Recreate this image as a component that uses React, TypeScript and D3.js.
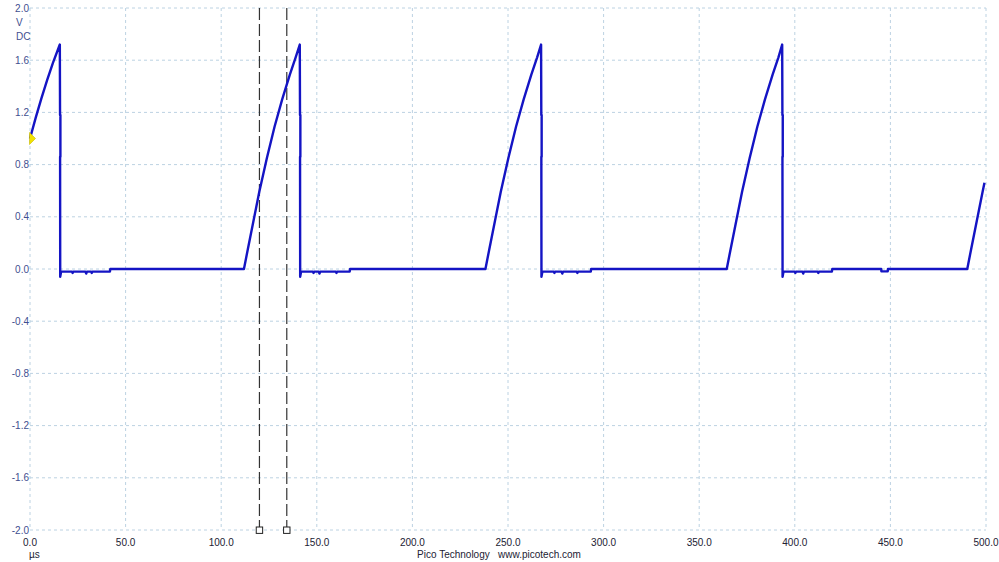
import React from "react";
import * as d3 from "d3";

// ---- data ----
const xTicks = [0, 50, 100, 150, 200, 250, 300, 350, 400, 450, 500];
const yTicks = [2.0, 1.6, 1.2, 0.8, 0.4, 0.0, -0.4, -0.8, -1.2, -1.6, -2.0];
const yUnitLabels = ["V", "DC"];
const xUnitLabel = "µs";
const footerText = "Pico Technology   www.picotech.com";
const cursorTimes = [120.0, 134.3];
const triggerLevel = 1.0;

// trace: time (µs)
const traceT = [
  0, 3, 6, 9, 12, 15.6,
  15.72, 15.74, 15.9, 15.9, 15.74, 15.8, 16.3, 22, 22.3, 22.6, 29, 29.4, 29.8, 32, 32.3, 32.6, 41.8, 42.0,
  111.9, 113.9, 116.9, 119.9, 123.9, 127.9, 131.9, 135.9, 138.9, 141.1,
  141.22, 141.24, 141.4, 141.4, 141.24, 141.3, 141.8, 148, 148.3, 148.6, 151, 151.4, 151.8, 160, 160.3, 160.6, 167.2, 167.4,
  238.2, 240.2, 243.2, 246.2, 250.2, 254.2, 258.2, 262.2, 265.2, 267.3,
  267.42, 267.44, 267.6, 267.6, 267.44, 267.5, 268.0, 274, 274.3, 274.6, 278, 278.4, 278.8, 286, 286.3, 286.6, 293.3, 293.5,
  364.4, 366.4, 369.4, 372.4, 376.4, 380.4, 384.4, 388.4, 391.4, 393.4,
  393.52, 393.54, 393.7, 393.7, 393.54, 393.6, 394.1, 400, 400.3, 400.6, 404, 404.4, 404.8, 412, 412.3, 412.6, 419.4, 419.6,
  445.2, 445.3, 448.6, 448.7,
  490.2, 492.2, 495.2, 498.2, 499.2,
];
// trace: voltage (V)
const traceV = [
  1.0, 1.16, 1.31, 1.45, 1.58, 1.72,
  1.18, 1.18, 1.18, 0.86, 0.86, -0.06, -0.02, -0.02, -0.03, -0.02, -0.02, -0.035, -0.02, -0.02, -0.03, -0.02, -0.02, 0.0,
  0.0, 0.15, 0.37, 0.59, 0.85, 1.09, 1.3, 1.49, 1.62, 1.72,
  1.18, 1.18, 1.18, 0.86, 0.86, -0.06, -0.02, -0.02, -0.03, -0.02, -0.02, -0.035, -0.02, -0.02, -0.03, -0.02, -0.02, 0.0,
  0.0, 0.15, 0.37, 0.59, 0.85, 1.09, 1.3, 1.49, 1.62, 1.72,
  1.18, 1.18, 1.18, 0.86, 0.86, -0.06, -0.02, -0.02, -0.03, -0.02, -0.02, -0.035, -0.02, -0.02, -0.03, -0.02, -0.02, 0.0,
  0.0, 0.15, 0.37, 0.59, 0.85, 1.09, 1.3, 1.49, 1.62, 1.72,
  1.18, 1.18, 1.18, 0.86, 0.86, -0.06, -0.02, -0.02, -0.03, -0.02, -0.02, -0.035, -0.02, -0.02, -0.03, -0.02, -0.02, 0.0,
  0.0, -0.018, -0.018, 0.0,
  0.0, 0.15, 0.37, 0.59, 0.66,
];

export default function App() {
  const W = 999, H = 562;
  const x = d3.scaleLinear().domain([0, 500]).range([30, 986]);
  const y = d3.scaleLinear().domain([-2, 2]).range([530, 8]);
  const pts: [number, number][] = traceT.map((t, i) => [t, traceV[i]]);
  const line = d3.line<[number, number]>().x(d => x(d[0])).y(d => y(d[1]));
  const gridColor = "#bcd2e2";
  const font = "'Liberation Sans', Arial, sans-serif";
  const ty = y(triggerLevel);
  return (
    <svg width={W} height={H} style={{ position: "absolute", left: 0, top: 0, background: "#fff" }}>
      <rect x={0} y={0} width={W} height={H} fill="#fff" />
      {xTicks.map(t => (
        <line key={"gx" + t} x1={x(t)} x2={x(t)} y1={y(2)} y2={y(-2)} stroke={gridColor} strokeWidth={1} strokeDasharray="3 3" />
      ))}
      {yTicks.map(v => (
        <line key={"gy" + v} x1={x(0)} x2={x(500)} y1={y(v)} y2={y(v)} stroke={gridColor} strokeWidth={1} strokeDasharray="3 3" />
      ))}
      {yTicks.map(v => (
        <text key={"ly" + v} x={29} y={y(v)} dy="0.35em" textAnchor="end" fontFamily={font} fontSize={10} fill="#3f4f8f">
          {v.toFixed(1)}
        </text>
      ))}
      {yUnitLabels.map((s, i) => (
        <text key={"u" + i} x={16} y={22 + i * 14} dy="0.35em" fontFamily={font} fontSize={10} fill="#3f4f8f">{s}</text>
      ))}
      {xTicks.map(t => (
        <text key={"lx" + t} x={x(t)} y={542} dy="0.35em" textAnchor="middle" fontFamily={font} fontSize={10} fill="#222233">
          {t.toFixed(1)}
        </text>
      ))}
      <text x={29} y={558} fontFamily={font} fontSize={10} fill="#222233">{xUnitLabel}</text>
      <text x={499} y={558} textAnchor="middle" fontFamily={font} fontSize={10} fill="#222233" style={{ whiteSpace: "pre" }}>{footerText}</text>
      {cursorTimes.map((t, i) => (
        <g key={"c" + i}>
          <line x1={x(t)} x2={x(t)} y1={8} y2={527} stroke="#333" strokeWidth={1.2} strokeDasharray="12 4" />
          <rect x={x(t) - 3.2} y={527} width={6.4} height={6.4} fill="#fff" stroke="#222" strokeWidth={1} />
        </g>
      ))}
      <path d={line(pts) || ""} fill="none" stroke="#1414c4" strokeWidth={2.4} strokeLinejoin="round" />
      <path d={`M${x(0) - 0.5},${ty - 6} L${x(0) + 5.5},${ty} L${x(0) - 0.5},${ty + 6} Z`} fill="#f2e200" stroke="#c8b800" strokeWidth={0.6} />
    </svg>
  );
}
